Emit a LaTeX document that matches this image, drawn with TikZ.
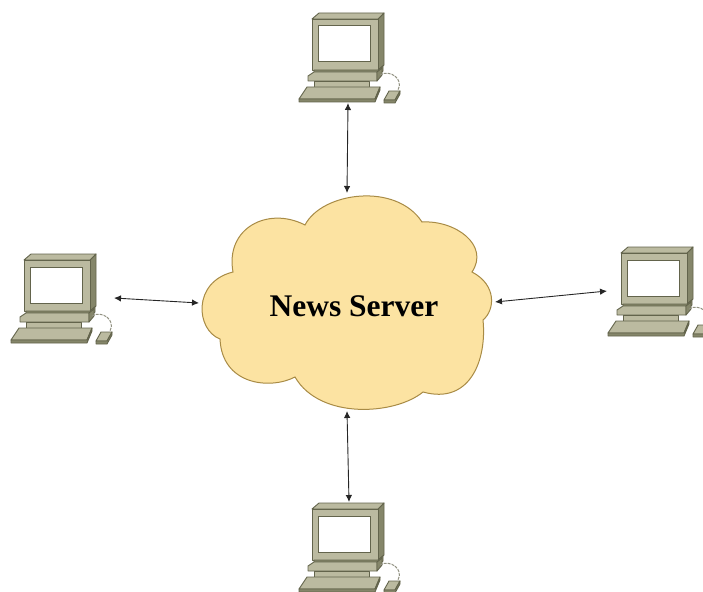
\documentclass[tikz,border=0pt]{standalone}
\usepackage{fontspec}
\setmainfont{Liberation Serif}
\usetikzlibrary{arrows.meta}
\definecolor{case}{HTML}{BBBAA0}
\definecolor{caseside}{HTML}{85866A}
\definecolor{casedark}{HTML}{63644C}
\definecolor{cloudfill}{HTML}{FCE3A2}
\definecolor{cloudline}{HTML}{A88B45}
\tikzset{
	part/.style={draw=casedark, fill=case, line width=0.9pt, line join=round},
	link/.style={draw=black!85, line width=0.9pt, {Latex[length=7pt,width=6.5pt]}-{Latex[length=7pt,width=6.5pt]}},
	computer/.pic={
		\path[part, fill=caseside] (66,0)--(72,-6)--(72,46)--(66,51)--cycle;
		\path[part] (0,0)--(7,-6)--(72,-6)--(66,0)--cycle;
		\path[part] (0,0) rectangle (66,51);
		\path[draw=casedark, fill=white, line width=1pt] (6,7) rectangle (58,43);
		\path[part, fill=caseside] (2,51)--(66,51)--(71,47)--(71,52)--(65,57)--(2,57)--cycle;
		\path[part] (-4,57)--(2,53)--(65,53)--(65,62)--(-4,62)--cycle;
		\path[part, fill=caseside] (65,62)--(65,53)--(70,49)--(70,56)--cycle;
		\path[part] (2,62) rectangle (57,68);
		\path[part] (-5,68)--(68,68)--(63,80)--(-13,80)--cycle;
		\path[part, fill=caseside] (-13,80)--(63,80)--(68,68)--(68,71)--(63,83)--(-13,83)--cycle;
		\path[part] (77,72)--(88,72)--(83,81)--(72,81)--cycle;
		\path[part, fill=caseside] (72,81)--(83,81)--(88,72)--(88,75)--(83,84)--(72,84)--cycle;
		\path[draw=casedark!70, line width=1pt, dash pattern=on 3pt off 1pt]
			(68,56) .. controls (78,50) and (92,60) .. (86,71);
	}
}
\begin{document}
\begin{tikzpicture}[x=1pt, y=-1pt]
	\useasboundingbox (0,0) rectangle (703,591);
	\clip (0,0) rectangle (703,591);
	\pic (pcTop) at (312,19) {computer};
	\pic (pcLeft) at (24,260) {computer};
	\pic (pcRight) at (621,253) {computer};
	\pic (pcBottom) at (312,509) {computer};
	% cloud
	\path[draw=cloudline, fill=cloudfill, line width=1pt]
		(305,225) .. controls (322,192) and (396,182) .. (422,222)
		.. controls (455,220) and (490,245) .. (472,272)
		.. controls (497,285) and (495,310) .. (483,320)
		.. controls (487,360) and (470,405) .. (423,392)
		.. controls (395,415) and (320,420) .. (295,377)
		.. controls (270,390) and (222,385) .. (220,339)
		.. controls (196,330) and (192,282) .. (233,272)
		.. controls (225,228) and (268,206) .. (305,225) -- cycle;
	\node[font=\fontsize{31.5}{38}\selectfont\bfseries] (server) at (354,306) {News Server};
	\coordinate (serverN) at (347,193);
	\coordinate (serverW) at (199,303);
	\coordinate (serverE) at (495,302);
	\coordinate (serverS) at (347,411);
	\coordinate (topPort) at (348,103);
	\coordinate (leftPort) at (114,298);
	\coordinate (rightPort) at (607,291);
	\coordinate (bottomPort) at (349,502);
	\path[link] (topPort)--(serverN);
	\path[link] (leftPort)--(serverW);
	\path[link] (rightPort)--(serverE);
	\path[link] (bottomPort)--(serverS);
\end{tikzpicture}
\end{document}
